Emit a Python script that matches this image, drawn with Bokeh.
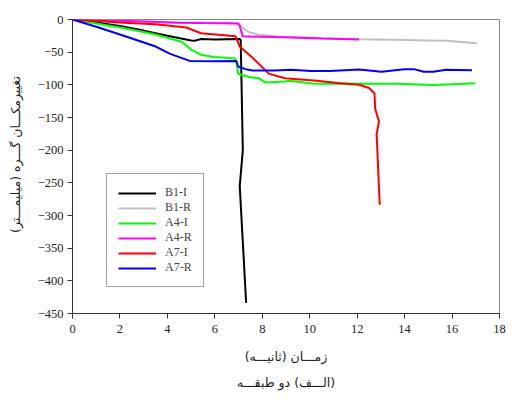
from bokeh.plotting import figure
from bokeh.models import Range1d, FixedTicker, Title
from bokeh.embed import file_html
from bokeh.resources import INLINE

# ---- data ----
b1i_x = [0, 1, 2, 3, 4, 5.0, 5.15, 5.4, 6.0, 7.05, 7.09, 7.18, 7.05, 7.32]
b1i_y = [0, -4.5, -10, -17, -25, -32, -32.6, -30, -30.5, -30, -31, -200, -255, -434]

b1r_x = [0, 2, 4, 6, 7.0, 7.1, 7.25, 7.45, 7.86, 8.95, 10.5, 12.08, 13.5, 15.0, 15.76, 16.4, 17.05]
b1r_y = [0, -2, -4, -5, -6, -10, -14.6, -19.5, -23.4, -26.8, -28.5, -30.2, -31, -32, -32.6, -34.5, -36.5]

a4i_x = [0, 1, 2.15, 3.5, 4.6, 5.0, 5.42, 5.96, 6.84, 6.91, 6.98, 7.45, 7.86, 8.14, 8.95, 9.2,
         10.18, 11.5, 12.5, 13.7, 15.2, 16.0, 16.98]
a4i_y = [0, -6, -13, -23, -34, -46, -54, -57.5, -59.5, -66, -83, -88, -90, -96.5, -95, -93.6,
         -98.5, -98, -98.5, -98.5, -100.4, -99, -97.5]

a4r_x = [0, 1, 2, 3, 4.4, 5.5, 6.98, 7.05, 7.18, 8.0, 8.95, 10.5, 12.08]
a4r_y = [0, -1, -2, -3, -5, -5.5, -6, -10, -25.8, -26.5, -27.3, -29, -30.7]

a7i_x = [0, 2.15, 3.5, 4.8, 5.42, 6.88, 7.05, 7.59, 8.27, 8.95, 10.3, 11.27, 12.08, 12.5,
         12.73, 12.76, 12.92, 12.82, 12.95]
a7i_y = [0, -4.9, -7.3, -12.2, -21, -25.8, -41.4, -58.5, -82.8, -90, -93.6, -97.5, -99.9, -104.8,
         -113, -136.5, -156, -175.4, -283.6]

a7r_x = [0, 1, 2, 3.51, 4.12, 4.94, 6.0, 6.91, 6.98, 7.3, 7.59, 8.5, 9.22, 10.04, 10.86,
         12.08, 13.03, 13.99, 14.4, 14.8, 15.2, 15.76, 16.84]
a7r_y = [0, -11, -23, -41.4, -52.6, -63.4, -64, -63.4, -72, -76, -78, -78, -77, -79, -79,
         -76.5, -80, -76, -76, -80, -80, -77, -77.5]

series = [
    ("B1-I", b1i_x, b1i_y, "#000000"),
    ("B1-R", b1r_x, b1r_y, "#c0c0c0"),
    ("A4-I", a4i_x, a4i_y, "#00ff00"),
    ("A4-R", a4r_x, a4r_y, "#ff00ff"),
    ("A7-I", a7i_x, a7i_y, "#ff0000"),
    ("A7-R", a7r_x, a7r_y, "#0000ff"),
]

x_ticks = [0, 2, 4, 6, 8, 10, 12, 14, 16, 18]
y_ticks = [0, -50, -100, -150, -200, -250, -300, -350, -400, -450]

RLM = "\u200f"
NBSP = "\u00a0"
x_label = RLM + "زمـــان (ثانیـــه)" + RLM
y_label = RLM + "تغییرمکـــان گـــره (میلیمـــتر)" + NBSP * 6 + RLM
sub_title = RLM + "(الـــف) دو طبقـــه" + RLM

serif = "Liberation Serif"
persian = "DejaVu Sans"

p = figure(width=506, height=396, output_backend="svg", toolbar_location=None,
           x_range=Range1d(0, 18), y_range=Range1d(-450, 0),
           min_border_left=72, min_border_right=7, min_border_top=19, min_border_bottom=81)

for name, xs, ys, col in series:
    p.line(xs, ys, line_color=col, line_width=2, legend_label=name)

p.xgrid.visible = False
p.ygrid.visible = False
p.outline_line_color = "#888888"
p.background_fill_color = "white"
p.border_fill_color = "white"

for ax in (p.xaxis[0], p.yaxis[0]):
    ax.major_tick_in = 0
    ax.major_tick_out = 5
    ax.minor_tick_line_color = None
    ax.axis_line_color = "#333333"
    ax.major_tick_line_color = "#333333"
    ax.major_label_text_font = serif
    ax.major_label_text_font_size = "12.5px"
    ax.major_label_text_color = "#222222"
    ax.axis_label_text_font = persian
    ax.axis_label_text_font_size = "12.5px"
    ax.axis_label_text_font_style = "normal"
    ax.axis_label_text_color = "#222222"

p.xaxis[0].ticker = FixedTicker(ticks=x_ticks)
p.yaxis[0].ticker = FixedTicker(ticks=y_ticks)
p.xaxis[0].major_label_standoff = 6
p.yaxis[0].major_label_standoff = 4
p.xaxis[0].axis_label = x_label
p.yaxis[0].axis_label = y_label
p.xaxis[0].axis_label_standoff = 13
p.yaxis[0].axis_label_standoff = 12

t = Title(text=sub_title, align="center", text_font=persian, text_font_size="12.5px",
          text_font_style="normal", text_color="#222222", standoff=13, offset=-5)
p.add_layout(t, "below")

lg = p.legend[0]
lg.location = (34, 26)
lg.border_line_color = "#444444"
lg.border_line_width = 1
lg.background_fill_alpha = 1
lg.label_text_font = serif
lg.label_text_font_size = "12px"
lg.label_height = 12
lg.glyph_height = 12
lg.glyph_width = 38
lg.spacing = -1
lg.padding = 11
lg.margin = 0
lg.label_standoff = 9

open("out.html", "w").write(file_html(p, INLINE))
